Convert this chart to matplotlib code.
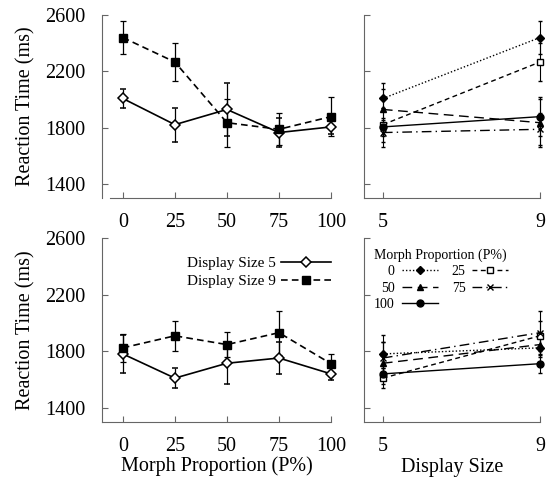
import matplotlib.pyplot as plt

plt.rcParams['font.family'] = ['Liberation Serif', 'DejaVu Serif']

# Data (reaction time in ms)
morph_proportion = [0, 25, 50, 75, 100]
display_sizes = [5, 9]

top_size5 = [2007, 1821, 1929, 1765, 1805]
top_size5_err = [65, 120, 190, 100, 50]
top_size9 = [2440, 2266, 1835, 1788, 1878]
top_size9_err = [118, 135, 170, 115, 140]

bottom_size5 = [1781, 1610, 1715, 1752, 1640]
bottom_size5_err = [135, 70, 150, 110, 45]
bottom_size9 = [1824, 1909, 1847, 1931, 1712]
bottom_size9_err = [100, 107, 87, 155, 66]

y_ticks = [1400, 1800, 2200, 2600]

spine_color = '#666666'
tick_size = 14.5

# one style per morph proportion: (linestyle, marker, face colour, marker size)
morph_styles = [
    ((0, (1, 1.5)), 'D', 'black', 4),
    ((0, (3.5, 2.5)), 's', 'white', 5),
    ((0, (7, 4)), '^', 'black', 5),
    ((0, (7, 3, 1, 3)), 'x', 'black', 5),
    ('-', 'o', 'black', 5),
]
# legend is filled row by row in the original: 0 25 / 50 75 / 100
legend_order = [0, 2, 4, 1, 3]


def style_axes(ax, show_yticklabels=True):
    ax.spines['top'].set_visible(False)
    ax.spines['right'].set_visible(False)
    ax.spines['left'].set_color(spine_color)
    ax.spines['bottom'].set_color(spine_color)
    ax.set_ylim(1300, 2600)
    ax.set_yticks(y_ticks)
    ax.tick_params(direction='in', length=4.5, color=spine_color, labelsize=tick_size, pad=12)
    ax.tick_params(axis='x', pad=11)
    if not show_yticklabels:
        ax.set_yticklabels([])


def draw_morph_panel(ax, size5, size5_err, size9, size9_err, legend=False, xlabel=False):
    ax.errorbar(morph_proportion, size5, yerr=size5_err, color='black', linewidth=1.2,
                marker='D', markersize=5.5, markerfacecolor='white', markeredgewidth=1.1,
                elinewidth=0.9, capsize=2, capthick=0.9, clip_on=False, zorder=3,
                label='Display Size 5')
    ax.errorbar(morph_proportion, size9, yerr=size9_err, color='black', linewidth=1.2,
                linestyle=(0, (4, 2.5)), marker='s', markersize=5.5, markerfacecolor='black',
                elinewidth=0.9, capsize=2, capthick=0.9, clip_on=False, zorder=3,
                label='Display Size 9')
    style_axes(ax)
    ax.set_xlim(-10, 100)
    ax.set_xticks(morph_proportion)
    ax.set_ylabel('Reaction Time (ms)', fontsize=14.5, labelpad=7)
    if xlabel:
        ax.set_xlabel('Morph Proportion (P%)', fontsize=14.5, labelpad=0)
    if legend:
        handles, labels = ax.get_legend_handles_labels()
        handles = [h[0] for h in handles]
        ax.legend(handles, labels, loc='upper right', bbox_to_anchor=(1.0, 0.9),
                  frameon=False, fontsize=11, markerfirst=False, handlelength=3.3,
                  handletextpad=0.3, labelspacing=0.3, borderaxespad=0, borderpad=0)


def draw_size_panel(ax, size5, size5_err, size9, size9_err, legend=False, xlabel=False):
    for i, p in enumerate(morph_proportion):
        ls, mk, fc, ms = morph_styles[i]
        ax.errorbar(display_sizes, [size5[i], size9[i]], yerr=[size5_err[i], size9_err[i]],
                    color='black', linewidth=1.0, linestyle=ls, marker=mk, markersize=ms,
                    markerfacecolor=fc, markeredgewidth=1.0, elinewidth=0.8, capsize=1.5,
                    capthick=0.8, clip_on=False, zorder=3, label=str(p))
    style_axes(ax, show_yticklabels=False)
    ax.set_xlim(4.52, 9)
    ax.set_xticks(display_sizes)
    if xlabel:
        ax.set_xlabel('Display Size', fontsize=14.5, labelpad=1)
    if legend:
        handles, labels = ax.get_legend_handles_labels()
        handles = [handles[i][0] for i in legend_order]
        labels = [labels[i] for i in legend_order]
        ax.legend(handles, labels, loc='upper left', bbox_to_anchor=(0.04, 0.96), ncol=2,
                  title='Morph Proportion (P%)', title_fontsize=10, alignment='left',
                  frameon=False, fontsize=10, markerfirst=False, handlelength=2.6,
                  handletextpad=0.5, labelspacing=0.25, columnspacing=1.0,
                  borderaxespad=0, borderpad=0.2)


fig = plt.figure(figsize=(5.49, 4.79), dpi=100)
ax_tl = fig.add_axes([102 / 549, 1 - 198 / 479, 229 / 549, 183 / 479])
ax_tr = fig.add_axes([364 / 549, 1 - 198 / 479, 176 / 549, 183 / 479])
ax_bl = fig.add_axes([102 / 549, 1 - 422 / 479, 229 / 549, 184 / 479])
ax_br = fig.add_axes([364 / 549, 1 - 422 / 479, 176 / 549, 184 / 479])

draw_morph_panel(ax_tl, top_size5, top_size5_err, top_size9, top_size9_err)
ax_tl.spines['bottom'].set_bounds(-6, 100)
draw_size_panel(ax_tr, top_size5, top_size5_err, top_size9, top_size9_err)
draw_morph_panel(ax_bl, bottom_size5, bottom_size5_err, bottom_size9, bottom_size9_err,
                 legend=True, xlabel=True)
draw_size_panel(ax_br, bottom_size5, bottom_size5_err, bottom_size9, bottom_size9_err,
                legend=True, xlabel=True)

fig.savefig('out.png', dpi=100)
